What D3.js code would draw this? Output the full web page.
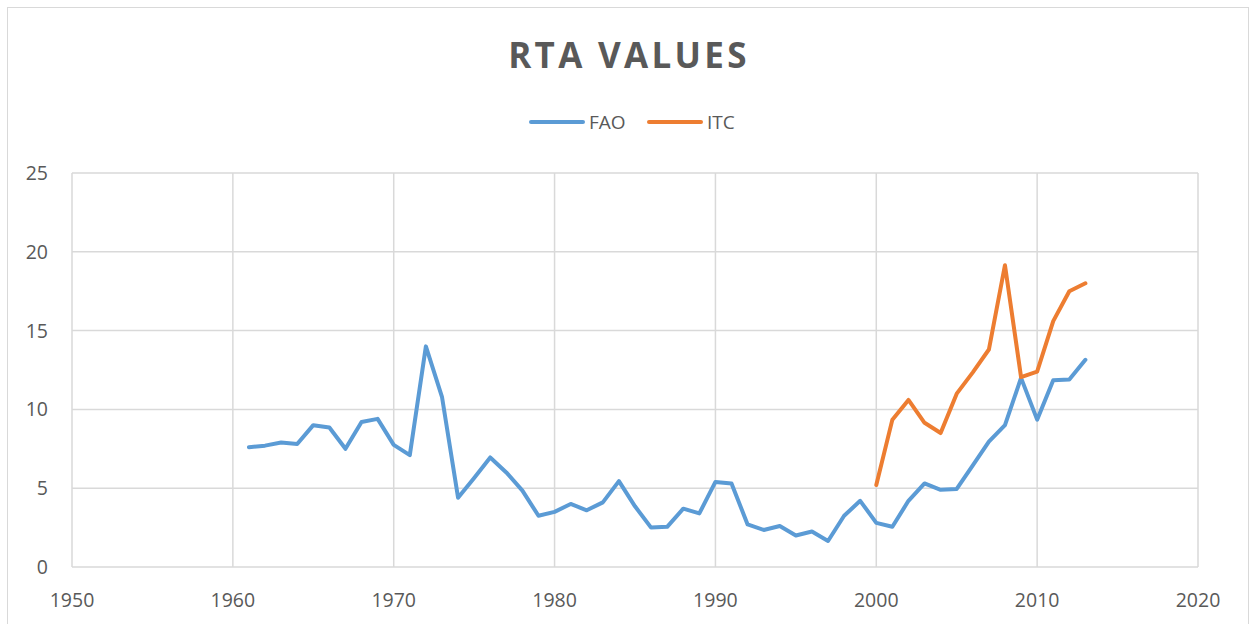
<!DOCTYPE html>
<html>
<head>
<meta charset="utf-8">
<script src="https://cdn.jsdelivr.net/npm/d3@7"></script>
<style>
  body { margin: 0; background: #fff; }
  text { font-family: "Open Sans", "Noto Sans", sans-serif; fill: #595959; }
</style>
</head>
<body>
<div id="chart"></div>
<script>
// years and series
const faoYears = d3.range(1961, 2014);
const faoValues = [7.6, 7.7, 7.9, 7.8, 9.0, 8.85, 7.5, 9.2, 9.4, 7.75,
  7.1, 14.0, 10.8, 4.4, 5.65, 6.95, 6.0, 4.85, 3.25, 3.5,
  4.0, 3.6, 4.1, 5.45, 3.85, 2.5, 2.55, 3.7, 3.4, 5.4,
  5.3, 2.7, 2.35, 2.6, 2.0, 2.25, 1.65, 3.25, 4.2, 2.8,
  2.55, 4.2, 5.3, 4.9, 4.95, 6.45, 7.95, 9.0, 12.0, 9.35,
  11.85, 11.9, 13.15];
const itcYears = d3.range(2000, 2014);
const itcValues = [5.2, 9.35, 10.6, 9.15, 8.5, 11.0, 12.35, 13.8, 19.15, 12.05,
  12.4, 15.6, 17.5, 18.0];
const xTicks = [1950, 1960, 1970, 1980, 1990, 2000, 2010, 2020];
const yTicks = [0, 5, 10, 15, 20, 25];

const width = 1252, height = 624;
const margin = {top: 173, right: 54, bottom: 57, left: 72};

const svg = d3.select("#chart").append("svg")
  .attr("width", width)
  .attr("height", height);

// outer chart border
svg.append("rect")
  .attr("x", 7.5).attr("y", 7.5)
  .attr("width", 1241).attr("height", 630)
  .attr("fill", "none")
  .attr("stroke", "#d9d9d9");

const x = d3.scaleLinear().domain([1950, 2020]).range([margin.left, width - margin.right]);
const y = d3.scaleLinear().domain([0, 25]).range([height - margin.bottom, margin.top]);

// gridlines
svg.append("g").selectAll("line.h")
  .data(yTicks).enter().append("line")
  .attr("x1", x(1950)).attr("x2", x(2020))
  .attr("y1", d => y(d)).attr("y2", d => y(d))
  .attr("stroke", "#d9d9d9").attr("stroke-width", 1.5);

svg.append("g").selectAll("line.v")
  .data(xTicks).enter().append("line")
  .attr("x1", d => x(d)).attr("x2", d => x(d))
  .attr("y1", y(0)).attr("y2", y(25))
  .attr("stroke", "#d9d9d9").attr("stroke-width", 1.5);

// tick labels
svg.append("g").selectAll("text")
  .data(yTicks).enter().append("text")
  .attr("x", 48).attr("y", d => y(d))
  .attr("dy", "0.36em")
  .attr("text-anchor", "end")
  .style("font-size", "19.5px")
  .text(d => d);

svg.append("g").selectAll("text")
  .data(xTicks).enter().append("text")
  .attr("x", d => x(d)).attr("y", 607)
  .attr("text-anchor", "middle")
  .style("font-size", "19.5px")
  .text(d => d);

// series lines
const line = d3.line().x(d => x(d[0])).y(d => y(d[1]));

svg.append("path")
  .datum(d3.zip(faoYears, faoValues))
  .attr("d", line)
  .attr("fill", "none")
  .attr("stroke", "#5b9bd5")
  .attr("stroke-width", 4)
  .attr("stroke-linejoin", "round")
  .attr("stroke-linecap", "round");

svg.append("path")
  .datum(d3.zip(itcYears, itcValues))
  .attr("d", line)
  .attr("fill", "none")
  .attr("stroke", "#ed7d31")
  .attr("stroke-width", 4)
  .attr("stroke-linejoin", "round")
  .attr("stroke-linecap", "round");

// title
svg.append("text")
  .attr("x", 629).attr("y", 68)
  .attr("text-anchor", "middle")
  .style("font-size", "35px")
  .style("font-weight", "bold")
  .style("letter-spacing", "3.3px")
  .text("RTA VALUES");

// legend
const legend = [
  {name: "FAO", color: "#5b9bd5", x: 530},
  {name: "ITC", color: "#ed7d31", x: 648}
];
const lg = svg.append("g").selectAll("g")
  .data(legend).enter().append("g");
lg.append("line")
  .attr("x1", d => d.x + 1).attr("x2", d => d.x + 53)
  .attr("y1", 122).attr("y2", 122)
  .attr("stroke", d => d.color)
  .attr("stroke-width", 4)
  .attr("stroke-linecap", "round");
lg.append("text")
  .attr("x", d => d.x + 59).attr("y", 122)
  .attr("dy", "0.36em")
  .style("font-size", "19px")
  .text(d => d.name);
</script>
</body>
</html>
